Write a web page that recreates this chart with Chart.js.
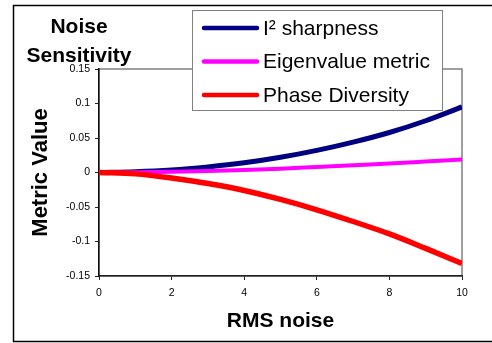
<!DOCTYPE html>
<html>
<head>
<meta charset="utf-8">
<script src="https://cdn.jsdelivr.net/npm/chart.js@4"></script>
<style>
html,body{margin:0;padding:0;background:#fff;}
#wrap{position:relative;width:492px;height:343px;}
canvas{display:block;}
</style>
</head>
<body>
<div id="wrap"><canvas id="c" width="492" height="343"></canvas></div>
<script>
// ---- data ----
const chartTitle = ["Noise", "Sensitivity"];
const xTitle = "RMS noise";
const yTitle = "Metric Value";
const seriesNames = ["I\u00B2 sharpness", "Eigenvalue metric", "Phase Diversity"];
const seriesColors = ["#000080", "#FF00FF", "#FF0000"];
const xValues = [0, 1, 2, 3, 4, 5, 6, 7, 8, 9, 10];
const i2Sharpness = [0, 0.001, 0.0035, 0.008, 0.014, 0.022, 0.032, 0.044, 0.058, 0.075, 0.095];
const eigenMetric = [0, 0.0003, 0.001, 0.002, 0.0035, 0.0055, 0.008, 0.0105, 0.013, 0.016, 0.019];
const phaseDiversity = [0, -0.002, -0.008, -0.016, -0.026, -0.039, -0.054, -0.071, -0.089, -0.110, -0.132];
const xTicks = [0, 2, 4, 6, 8, 10];
const yTicks = [-0.15, -0.1, -0.05, 0, 0.05, 0.1, 0.15];
const yTickLabels = ["-0.15", "-0.1", "-0.05", "0", "0.05", "0.1", "0.15"];

const FONT = "'Liberation Sans', Arial, sans-serif";
const seriesValues = [i2Sharpness, eigenMetric, phaseDiversity];
const widths = [5, 4, 5.5];
const orders = [3, 2, 1];

const datasets = seriesValues.map((vals, i) => ({
  label: seriesNames[i],
  data: xValues.map((x, k) => ({x: x, y: vals[k]})),
  borderColor: seriesColors[i],
  backgroundColor: seriesColors[i],
  borderWidth: widths[i],
  pointRadius: 0,
  cubicInterpolationMode: 'monotone',
  fill: false,
  order: orders[i]
}));

const decor = {
  id: 'decor',
  beforeDraw(chart) {
    const ctx = chart.ctx, a = chart.chartArea;
    ctx.save();
    ctx.fillStyle = '#fff';
    ctx.fillRect(0, 0, chart.width, chart.height);
    // outer frame
    ctx.strokeStyle = '#000';
    ctx.lineWidth = 1.5;
    ctx.strokeRect(13.5, 5.5, 500, 336);
    // plot area border (gray)
    ctx.strokeStyle = '#808080';
    ctx.lineWidth = 1.5;
    ctx.strokeRect(a.left, a.top, a.right - a.left, a.bottom - a.top);
    ctx.restore();
  },
  afterDraw(chart) {
    const ctx = chart.ctx;
    ctx.save();
    // chart title
    ctx.fillStyle = '#000';
    ctx.font = "bold 21px " + FONT;
    ctx.textAlign = 'center';
    ctx.textBaseline = 'alphabetic';
    ctx.fillText(chartTitle[0], 79, 33);
    ctx.fillText(chartTitle[1], 79, 61.5);
    // legend
    const bx = 192.5, by = 10.5, bw = 250, bh = 100;
    ctx.fillStyle = '#fff';
    ctx.fillRect(bx, by, bw, bh);
    ctx.strokeStyle = '#808080';
    ctx.lineWidth = 1;
    ctx.strokeRect(bx, by, bw, bh);
    const ys = [28, 61.5, 95];
    chart.data.datasets.forEach((ds, i) => {
      ctx.strokeStyle = ds.borderColor;
      ctx.lineWidth = 4.5;
      ctx.lineCap = 'round';
      ctx.beginPath();
      ctx.moveTo(204, ys[i]);
      ctx.lineTo(257, ys[i]);
      ctx.stroke();
      ctx.fillStyle = '#000';
      ctx.font = "21px " + FONT;
      ctx.textAlign = 'left';
      ctx.textBaseline = 'middle';
      ctx.fillText(ds.label, 263, ys[i] + 1);
    });
    ctx.restore();
  }
};

new Chart(document.getElementById('c'), {
  type: 'line',
  data: {datasets: datasets},
  options: {
    responsive: false,
    animation: false,
    events: [],
    layout: {padding: {left: 0, top: 69, right: 30, bottom: 0}},
    plugins: {legend: {display: false}, title: {display: false}, tooltip: {enabled: false}},
    scales: {
      x: {
        type: 'linear',
        min: 0, max: 10,
        afterBuildTicks: s => { s.ticks = xTicks.map(v => ({value: v})); },
        afterFit: s => { s.height = 67; },
        grid: {display: true, drawOnChartArea: false, drawTicks: true, tickLength: 4, color: '#222', tickWidth: 1},
        border: {display: true, color: '#222', width: 1.5},
        ticks: {color: '#000', font: {family: FONT, size: 10.5}, padding: 7, maxRotation: 0, autoSkip: false},
        title: {display: true, text: xTitle, color: '#000', font: {family: FONT, size: 21, weight: 'bold'}, padding: {top: 0, bottom: 9}}
      },
      y: {
        type: 'linear',
        min: -0.15, max: 0.15,
        afterBuildTicks: s => { s.ticks = yTicks.map(v => ({value: v})); },
        afterFit: s => { s.width = 99; },
        grid: {display: true, drawOnChartArea: false, drawTicks: true, tickLength: 4, color: '#222', tickWidth: 1},
        border: {display: true, color: '#111', width: 1.5},
        ticks: {
          color: '#000', font: {family: FONT, size: 10.5}, padding: 5, autoSkip: false,
          callback: (v) => { const k = yTicks.findIndex(t => Math.abs(t - v) < 1e-9); return k >= 0 ? yTickLabels[k] : ''; }
        },
        title: {display: true, text: yTitle, color: '#000', font: {family: FONT, size: 22, weight: 'bold'}, padding: {top: 28, bottom: 0}}
      }
    }
  },
  plugins: [decor]
});
</script>
</body>
</html>
